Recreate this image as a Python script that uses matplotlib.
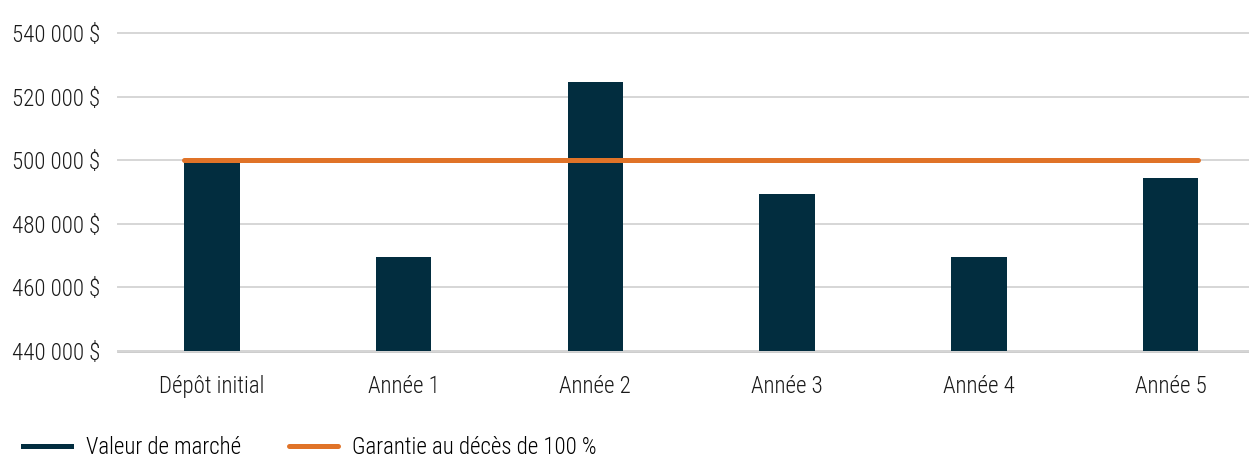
import matplotlib.pyplot as plt
from matplotlib.lines import Line2D

categories = ["Dépôt initial", "Année 1", "Année 2", "Année 3", "Année 4", "Année 5"]
market_values = [500000, 469500, 524500, 489500, 469500, 494500]
guarantee = 500000
y_ticks = [440000, 460000, 480000, 500000, 520000, 540000]

bar_color = "#022d3f"
line_color = "#e07328"

plt.rcParams["font.family"] = ["Roboto Condensed", "Lato", "DejaVu Sans"]
plt.rcParams["font.weight"] = "light"

fig = plt.figure(figsize=(12.49, 4.59), dpi=100)
ax = fig.add_axes([118 / 1249, 1 - 351 / 459, 1 - 118 / 1249, (351 - 33) / 459])

x = list(range(len(categories)))
bar_width = 0.29
ax.bar(x, market_values, width=bar_width, color=bar_color, zorder=2)
ax.plot([x[0] - bar_width / 2, x[-1] + bar_width / 2], [guarantee, guarantee],
        color=line_color, lw=3.6, solid_capstyle="round", zorder=3)

ax.set_ylim(440000, 540000)
ax.set_xlim(-0.49, 5.41)
ax.set_yticks(y_ticks)
ax.set_yticklabels([f"{v:,} $".replace(",", " ") for v in y_ticks])
ax.set_xticks(x)
ax.set_xticklabels(categories)
ax.tick_params(axis="both", length=0, labelsize=16.5, colors="#1a1a1a")
ax.tick_params(axis="y", pad=13)
ax.tick_params(axis="x", pad=17)

ax.grid(axis="y", color="#d6d6d6", lw=1.4, zorder=0)
for gl in ax.get_ygridlines():
    gl.set_clip_on(False)
for side in ["top", "right", "left"]:
    ax.spines[side].set_visible(False)
ax.spines["bottom"].set_color("#c8c8c8")
ax.spines["bottom"].set_linewidth(2)
ax.spines["bottom"].set_zorder(1)

handles = [
    Line2D([], [], color=bar_color, lw=3.6),
    Line2D([], [], color=line_color, lw=3.6, solid_capstyle="round"),
]
fig.legend(handles, ["Valeur de marché", "Garantie au décès de 100 %"],
           loc="lower left", bbox_to_anchor=(0.002, -0.045), ncol=2, frameon=False,
           fontsize=16.5, handlelength=2.1, handletextpad=0.65, columnspacing=2.1)

fig.savefig("out.png", dpi=100)
